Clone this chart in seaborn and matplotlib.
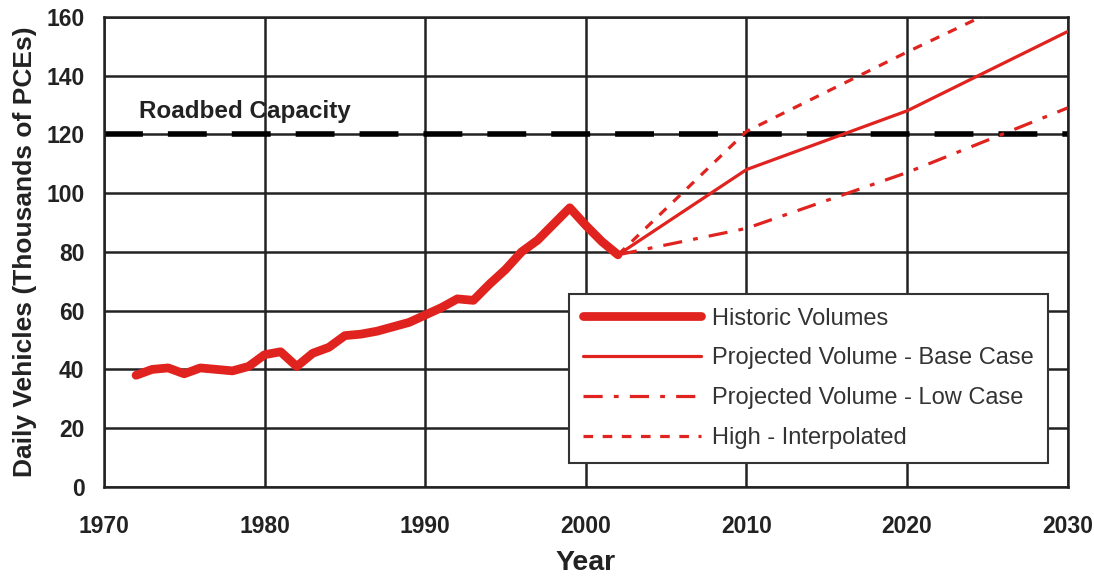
import numpy as np
import pandas as pd
import seaborn as sns
import matplotlib.pyplot as plt
from matplotlib.ticker import MultipleLocator

# historic traffic volumes (thousands of PCEs)
hist_years = [1972, 1973, 1974, 1975, 1976, 1977, 1978, 1979, 1980, 1981,
              1982, 1983, 1984, 1985, 1986, 1987, 1988, 1989, 1990, 1991,
              1992, 1993, 1994, 1995, 1996, 1997, 1998, 1999, 2000, 2001, 2002]
hist_vals = [38, 40, 40.5, 38.5, 40.5, 40, 39.5, 41, 45, 46,
             41, 45.5, 47.5, 51.5, 52, 53, 54.5, 56, 58.5, 61,
             64, 63.5, 69, 74, 80, 84, 89.5, 95, 89, 83.5, 79]

proj_years = [2002, 2010, 2020, 2030]
base_vals = [79, 108, 128, 155]
low_vals = [79, 88, 107, 129]
high_vals = [79, 121, 148, 174]

capacity = 120
red = '#e0231e'
ink = '#222222'

sns.set_style('white')
plt.rcParams['font.family'] = ['Liberation Sans', 'DejaVu Sans']

fig = plt.figure(figsize=(10.94, 5.79), dpi=100)
ax = fig.add_axes([0.095, 0.159, 0.881, 0.812])

ax.grid(True, color=ink, linewidth=1.8)
ax.set_axisbelow(True)

ax.axhline(capacity, color='black', linewidth=4, dashes=(7, 4.5), zorder=2)

sns.lineplot(x=hist_years, y=hist_vals, ax=ax, color=red, linewidth=6.3,
             solid_capstyle='round', solid_joinstyle='round', label='Historic Volumes', zorder=3)
sns.lineplot(x=proj_years, y=base_vals, ax=ax, color=red, linewidth=2.3,
             label='Projected Volume - Base Case', zorder=3)
sns.lineplot(x=proj_years, y=low_vals, ax=ax, color=red, linewidth=2.3,
             label='Projected Volume - Low Case', zorder=3)
ax.lines[-1].set_dashes((6, 3.5, 1.5, 3.5))
sns.lineplot(x=proj_years, y=high_vals, ax=ax, color=red, linewidth=2.3,
             label='High - Interpolated', zorder=3)
ax.lines[-1].set_dashes((3, 3))

ax.set_xlim(1970, 2030)
ax.set_ylim(0, 160)
ax.xaxis.set_major_locator(MultipleLocator(10))
ax.xaxis.set_minor_locator(MultipleLocator(5))
ax.yaxis.set_major_locator(MultipleLocator(20))
ax.tick_params(axis='both', which='both', direction='out', length=10, width=1.6,
               color=ink, pad=4, labelsize=16.5)
ax.tick_params(axis='x', which='major', pad=10)
ax.tick_params(axis='x', which='minor', length=8)
for lab in ax.get_xticklabels() + ax.get_yticklabels():
    lab.set_fontweight('bold')
    lab.set_color(ink)

for s in ax.spines.values():
    s.set_color(ink)
    s.set_linewidth(1.8)

ax.set_xlabel('Year', fontsize=20.5, fontweight='bold', color=ink, labelpad=9)
ax.set_ylabel('Daily Vehicles (Thousands of PCEs)', fontsize=19, fontweight='bold',
              color=ink, labelpad=7)

ax.text(1972.2, 125.5, 'Roadbed Capacity', fontsize=17.5, fontweight='bold',
        color=ink, zorder=4)

leg = ax.legend(loc='lower right', bbox_to_anchor=(0.979, 0.051), borderaxespad=0,
                fontsize=17, handlelength=5.0, frameon=True, fancybox=False,
                borderpad=0.6, labelspacing=0.75, handletextpad=0.45)
leg.get_frame().set_edgecolor('#333333')
leg.get_frame().set_linewidth(1.5)
leg.get_frame().set_alpha(1)
for t in leg.get_texts():
    t.set_color('#333333')

fig.savefig('out.png', dpi=100)
